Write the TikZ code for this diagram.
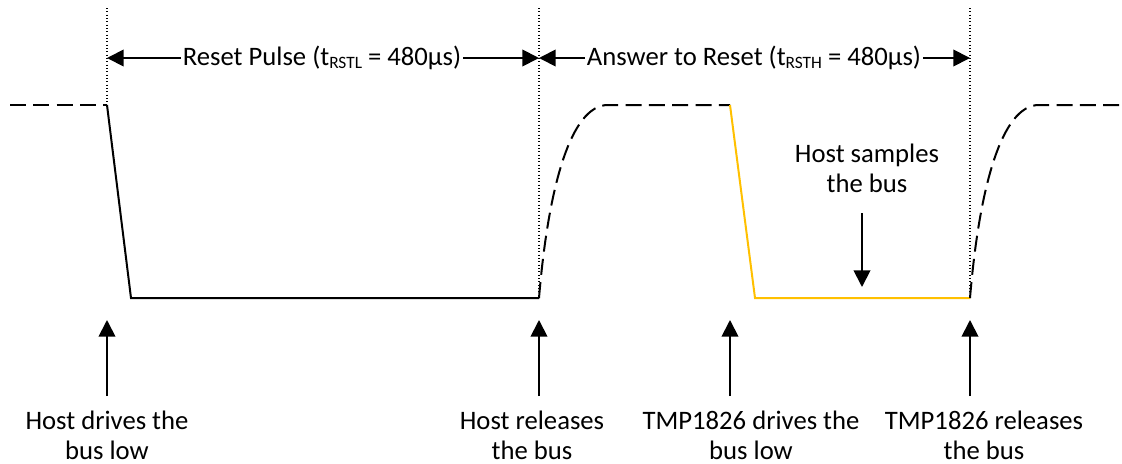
\documentclass[tikz,border=0pt]{standalone}
\usepackage{fontspec}
\setmainfont{Carlito}
\usetikzlibrary{arrows.meta}
\definecolor{gold}{HTML}{FFC000}
\newcommand{\sbs}[1]{\raisebox{-0.25ex}{\fontsize{13}{13}\selectfont #1}}
\begin{document}
\begin{tikzpicture}[x=0.75pt,y=-0.75pt,
  sig/.style={line width=1.5pt,line join=miter},
  dsig/.style={line width=1.5pt,dash pattern=on 12pt off 5.5pt},
  ysig/.style={line width=1.5pt,draw=gold},
  dotln/.style={line width=0.8pt,dash pattern=on 0.8pt off 1.7pt},
  arr/.style={line width=1.4pt,-{Triangle[length=12.5pt,width=12.5pt]}},
  lbl/.style={font=\fontsize{20}{22.5}\selectfont,align=center,inner sep=1.5pt},
  blbl/.style={lbl,inner sep=0pt}]
\useasboundingbox (0,0) rectangle (1122,464);
% reference coordinates
\coordinate (h0) at (10,105);
\coordinate (h1) at (107,105);
\coordinate (l1) at (131,298);
\coordinate (l2) at (539,298);
\coordinate (h2) at (608,105);
\coordinate (h3) at (730,105);
\coordinate (l3) at (755,298);
\coordinate (l4) at (970,298);
\coordinate (h4) at (1039,105);
\coordinate (h5) at (1122,105);
\coordinate (t1) at (107,8);
\coordinate (t2) at (539,8);
\coordinate (t3) at (970,8);
% dotted markers
\draw[dotln] (t1) -- (h1);
\draw[dotln] (t2) -- (l2);
\draw[dotln] (t3) -- (l4);
% waveform
\draw[dsig] (h0) -- (h1);
\draw[sig] (h1) -- (l1) -- (l2);
\draw[dsig] (l2) .. controls (548,190) and (570,105) .. (h2) -- (h3);
\draw[ysig] (h3) -- (l3) -- (l4);
\draw[dsig] (l4) .. controls (979,190) and (1001,105) .. (h4) -- (h5);
% top timing labels
\node[lbl] (rp) at (322,58) {Reset Pulse (t\sbs{RSTL} = 480µs)};
\node[lbl] (ar) at (754,58) {Answer to Reset (t\sbs{RSTH} = 480µs)};
\coordinate (a1) at (107,58);
\coordinate (a2) at (539,58);
\coordinate (a3) at (970,58);
\draw[arr] (rp.west) -- (a1);
\draw[arr] (rp.east) -- (a2);
\draw[arr] (ar.west) -- (a2);
\draw[arr] (ar.east) -- (a3);
% host samples
\node[lbl] (hs) at (867,168) {Host samples\\the bus};
\coordinate (hsa) at (862,213);
\coordinate (hsb) at (862,287);
\draw[arr] (hsa) -- (hsb);
% bottom labels
\node[blbl] (b1) at (107,435) {Host drives the\\bus low};
\node[blbl] (b2) at (532,435) {Host releases\\the bus};
\node[blbl] (b3) at (751,435) {TMP1826 drives the\\bus low};
\node[blbl] (b4) at (984,435) {TMP1826 releases\\the bus};
\coordinate (u1s) at (107,396); \coordinate (u1e) at (107,320);
\coordinate (u2s) at (539,396); \coordinate (u2e) at (539,320);
\coordinate (u3s) at (730,396); \coordinate (u3e) at (730,320);
\coordinate (u4s) at (970,396); \coordinate (u4e) at (970,320);
\draw[arr] (u1s) -- (u1e);
\draw[arr] (u2s) -- (u2e);
\draw[arr] (u3s) -- (u3e);
\draw[arr] (u4s) -- (u4e);
\end{tikzpicture}
\end{document}
